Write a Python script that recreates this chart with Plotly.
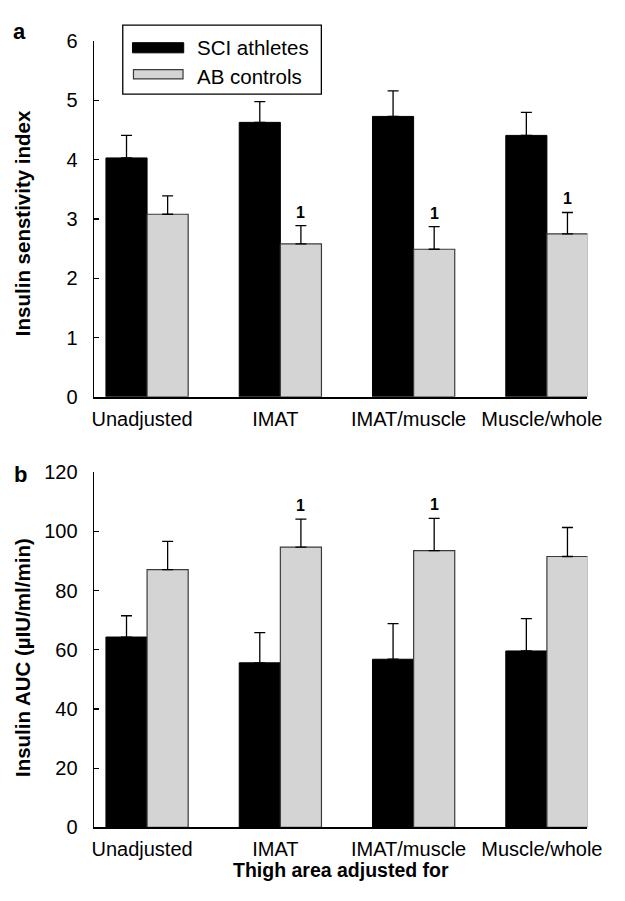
import plotly.graph_objects as go

categories = ["Unadjusted", "IMAT", "IMAT/muscle", "Muscle/whole"]
series_names = ["SCI athletes", "AB controls"]

# Panel a: insulin sensitivity index
isi_sci = [4.03, 4.63, 4.73, 4.41]
isi_sci_err = [0.38, 0.35, 0.43, 0.39]
isi_ab = [3.08, 2.58, 2.49, 2.75]
isi_ab_err = [0.31, 0.31, 0.38, 0.36]
isi_sig = ["", "1", "1", "1"]

# Panel b: insulin AUC
auc_sci = [64.3, 55.6, 56.8, 59.6]
auc_sci_err = [7.2, 10.2, 12.0, 10.9]
auc_ab = [87.1, 94.7, 93.5, 91.5]
auc_ab_err = [9.5, 9.4, 10.9, 9.8]
auc_sig = ["", "1", "1", ""]

# the page adds an 8px body margin around the figure; size the figure so the page is 625x901
OFF = 8
W, H = 625 - 2 * OFF, 901 - 2 * OFF
FONT = "Liberation Sans, Arial, Helvetica, sans-serif"
BLACK = "#000000"
GRAY = "#d4d4d4"
GRAY_EDGE = "#3a3a3a"

def px(x):
    return (x - OFF) / W

def py(y):
    return 1 - (y - OFF) / H

xpos = list(range(len(categories)))

fig = go.Figure()

def add_panel(sci, sci_err, ab, ab_err, xa, ya):
    fig.add_trace(go.Bar(
        x=xpos, y=sci, name=series_names[0], xaxis=xa, yaxis=ya,
        marker=dict(color=BLACK, line=dict(color=BLACK, width=1)),
        error_y=dict(type="data", symmetric=False, array=sci_err,
                     arrayminus=[0] * len(sci), color=BLACK,
                     thickness=1.3, width=5.5),
        showlegend=False, offsetgroup="a", hoverinfo="skip"))
    fig.add_trace(go.Bar(
        x=xpos, y=ab, name=series_names[1], xaxis=xa, yaxis=ya,
        marker=dict(color=GRAY, line=dict(color=GRAY_EDGE, width=1.2)),
        error_y=dict(type="data", symmetric=False, array=ab_err,
                     arrayminus=[0] * len(ab), color=BLACK,
                     thickness=1.3, width=5.5),
        showlegend=False, offsetgroup="b", hoverinfo="skip"))

add_panel(isi_sci, isi_sci_err, isi_ab, isi_ab_err, "x", "y")
add_panel(auc_sci, auc_sci_err, auc_ab, auc_ab_err, "x2", "y2")

BARGAP = 0.383
bar_w = (1 - BARGAP) / 2
for i, s in enumerate(isi_sig):
    if s:
        fig.add_annotation(x=i + bar_w / 2, y=isi_ab[i] + isi_ab_err[i], xref="x", yref="y",
                           text="<b>" + s + "</b>", showarrow=False, yanchor="bottom",
                           yshift=3, font=dict(family=FONT, size=16, color=BLACK))
for i, s in enumerate(auc_sig):
    if s:
        fig.add_annotation(x=i + bar_w / 2, y=auc_ab[i] + auc_ab_err[i], xref="x2", yref="y2",
                           text="<b>" + s + "</b>", showarrow=False, yanchor="bottom",
                           yshift=3, font=dict(family=FONT, size=16, color=BLACK))

xr = [-0.399, 3.304]
xdom = [px(94.3), px(602)]
common_x = dict(range=xr, tickvals=xpos, ticktext=categories, showline=True,
                linecolor=BLACK, linewidth=2, ticks="", showgrid=False, zeroline=False,
                tickfont=dict(family=FONT, size=20, color=BLACK), domain=xdom,
                ticklabelstandoff=3, ticklabelshift=-5, ticklabeloverflow="allow")
common_y = dict(showline=True, linecolor=BLACK, linewidth=1.3, ticks="inside",
                ticklen=5, tickwidth=1.3, tickcolor=BLACK, showgrid=False, zeroline=False,
                tickfont=dict(family=FONT, size=20, color=BLACK), ticklabelstandoff=11)

fig.update_layout(
    width=W, height=H, margin=dict(l=0, r=0, t=0, b=0),
    paper_bgcolor="white", plot_bgcolor="white", hovermode=False,
    barmode="group", bargap=BARGAP, bargroupgap=0,
    font=dict(family=FONT, color=BLACK),
    xaxis=dict(**common_x, anchor="y"),
    yaxis=dict(**common_y, range=[0, 6], dtick=1, domain=[py(395.5), py(30.7)], anchor="x"),
    xaxis2=dict(**common_x, anchor="y2"),
    yaxis2=dict(**common_y, range=[0, 120], dtick=20, domain=[py(837), py(472.7)], anchor="x2"),
)

fig.add_annotation(x=px(20.7), y=py(217), xref="paper", yref="paper", text="<b>Insulin senstivity index</b>",
                   textangle=-90, showarrow=False, xanchor="center", yanchor="middle",
                   font=dict(family=FONT, size=20.5, color=BLACK))
fig.add_annotation(x=px(20.7), y=py(663), xref="paper", yref="paper", text="<b>Insulin AUC (µIU/ml/min)</b>",
                   textangle=-90, showarrow=False, xanchor="center", yanchor="middle",
                   font=dict(family=FONT, size=20.5, color=BLACK))
fig.add_annotation(x=px(348), y=py(894), xref="paper", yref="paper", text="<b>Thigh area adjusted for</b>",
                   showarrow=False, xanchor="center", yanchor="bottom",
                   font=dict(family=FONT, size=19.5, color=BLACK))
fig.add_annotation(x=px(18), y=py(21), xref="paper", yref="paper", text="<b>a</b>",
                   showarrow=False, xanchor="center", yanchor="middle",
                   font=dict(family=FONT, size=22, color=BLACK))
fig.add_annotation(x=px(19), y=py(475), xref="paper", yref="paper", text="<b>b</b>",
                   showarrow=False, xanchor="center", yanchor="middle",
                   font=dict(family=FONT, size=22, color=BLACK))

fig.add_shape(type="rect", xref="paper", yref="paper", x0=px(124), x1=px(328.3), y0=py(85), y1=py(14.3),
              line=dict(color=BLACK, width=1.3), fillcolor="white")
fig.add_shape(type="rect", xref="paper", yref="paper", x0=px(134), x1=px(186.7), y0=py(42.7), y1=py(32.3),
              line=dict(color=BLACK, width=1), fillcolor=BLACK)
fig.add_shape(type="rect", xref="paper", yref="paper", x0=px(135), x1=px(186), y0=py(69.5), y1=py(60),
              line=dict(color=GRAY_EDGE, width=1.2), fillcolor=GRAY)
fig.add_annotation(x=px(198), y=py(37.3), xref="paper", yref="paper", text=series_names[0],
                   showarrow=False, xanchor="left", yanchor="middle",
                   font=dict(family=FONT, size=20.5, color=BLACK))
fig.add_annotation(x=px(198), y=py(66.7), xref="paper", yref="paper", text=series_names[1],
                   showarrow=False, xanchor="left", yanchor="middle",
                   font=dict(family=FONT, size=20.5, color=BLACK))

fig.write_html("out.html", config={"displayModeBar": False, "staticPlot": True})
